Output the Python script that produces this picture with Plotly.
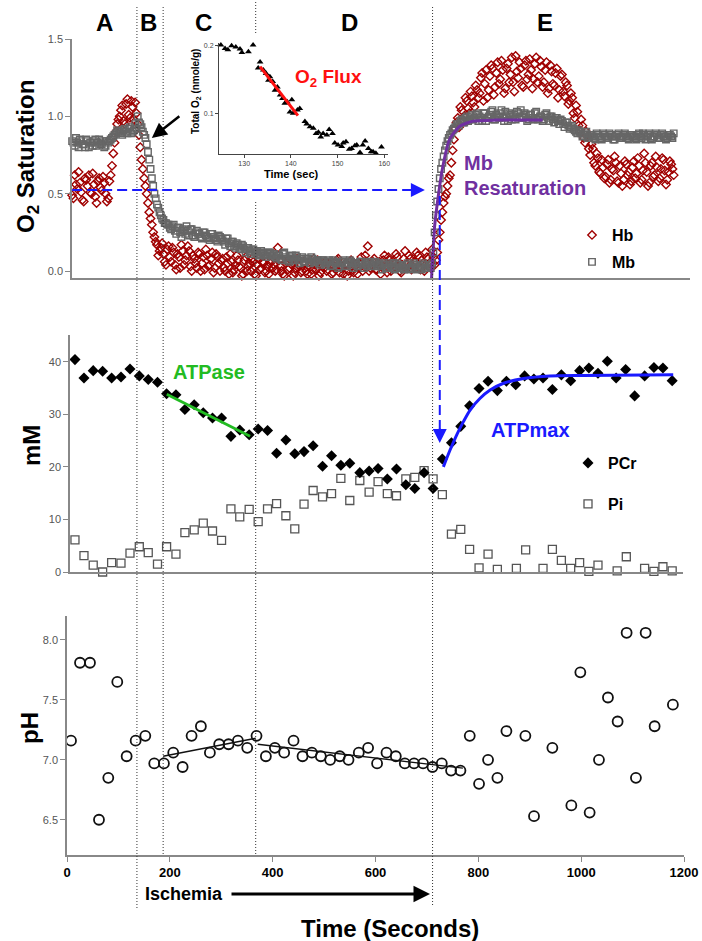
import plotly.graph_objects as go

W, H = 702, 941
FONT = "Arial, 'Liberation Sans', sans-serif"

# ---------------- DATA ----------------
# Top panel: O2 saturation, two interleaved sample sets (every 5 s, offset by 2.5 s)
sat_time = list(range(5, 1181, 5))
sat_time_b = [t - 2.5 for t in sat_time]
hb_sat = [
    0.58, 0.49, 0.62, 0.53, 0.57, 0.46, 0.60, 0.55, 0.51, 0.63, 0.48, 0.58, 0.54, 0.61, 0.50, 0.47, 0.62, 0.76, 0.90, 0.98,
    1.04, 0.97, 1.08, 1.01, 1.10, 0.98, 1.02, 0.88, 0.72, 0.60, 0.50, 0.38, 0.30, 0.22, 0.17, 0.13, 0.18, 0.06, 0.14, 0.09,
    0.15, 0.04, 0.11, 0.02, 0.13, 0.07, 0.16, 0.03, 0.10, 0.05, 0.12, 0.00, 0.09, 0.14, 0.03, 0.08, -0.01, 0.11, 0.05, 0.07,
    0.02, 0.09, -0.02, 0.06, 0.01, 0.10, 0.03, -0.03, 0.07, 0.00, 0.05, 0.08, -0.02, 0.04, 0.01, 0.06, -0.01, 0.03, 0.05, 0.02,
    0.00, 0.15, 0.03, -0.02, 0.05, 0.01, 0.07, -0.03, 0.02, 0.04, -0.01, 0.06, 0.00, 0.03, -0.02, 0.08, 0.01, -0.03, 0.04, 0.02,
    0.00, 0.05, -0.02, 0.03, 0.07, -0.01, 0.02, 0.04, -0.03, 0.06, 0.01, 0.03, -0.02, 0.05, 0.00, 0.10, 0.16, 0.02, 0.06, 0.01,
    0.04, -0.02, 0.07, 0.02, 0.09, 0.00, 0.05, 0.11, 0.03, -0.01, 0.08, 0.04, 0.10, 0.01, 0.06, 0.12, 0.03, 0.07, 0.00, 0.09,
    0.05, 0.14, 0.04, 0.12, 0.25, 0.38, 0.48, 0.55, 0.62, 0.78, 0.92, 0.99, 1.06, 0.98, 1.12, 1.05, 1.16, 1.09, 1.20, 1.12,
    1.25, 1.10, 1.30, 1.17, 1.33, 1.14, 1.28, 1.21, 1.36, 1.15, 1.31, 1.22, 1.38, 1.16, 1.29, 1.35, 1.20, 1.33, 1.24, 1.37,
    1.18, 1.34, 1.22, 1.36, 1.19, 1.30, 1.15, 1.33, 1.21, 1.28, 1.12, 1.26, 1.16, 1.22, 1.08, 1.15, 1.02, 1.07, 0.94, 0.98,
    0.86, 0.90, 0.79, 0.82, 0.70, 0.76, 0.64, 0.72, 0.60, 0.69, 0.57, 0.66, 0.74, 0.58, 0.68, 0.55, 0.71, 0.62, 0.56, 0.67,
    0.60, 0.73, 0.57, 0.65, 0.70, 0.55, 0.68, 0.61, 0.74, 0.58, 0.66, 0.72, 0.56, 0.64, 0.69, 0.62,
]
hb_sat_b = [
    0.52, 0.60, 0.47, 0.56, 0.64, 0.51, 0.45, 0.59, 0.62, 0.50, 0.56, 0.44, 0.60, 0.52, 0.57, 0.45, 0.58, 0.68, 0.83, 0.95,
    1.00, 1.07, 0.95, 1.11, 0.99, 1.06, 1.09, 0.95, 0.80, 0.66, 0.55, 0.44, 0.34, 0.25, 0.19, 0.10, 0.15, 0.11, 0.04, 0.16,
    0.06, 0.12, 0.01, 0.09, 0.17, 0.04, 0.10, 0.13, 0.00, 0.08, 0.02, 0.11, 0.05, 0.01, 0.10, 0.04, 0.12, 0.02, 0.09, 0.00,
    0.08, 0.00, 0.05, 0.11, -0.01, 0.04, 0.07, 0.02, -0.02, 0.09, 0.03, 0.00, 0.06, -0.03, 0.08, 0.02, 0.05, 0.00, -0.02, 0.07,
    0.04, 0.01, 0.07, 0.00, -0.03, 0.06, 0.02, 0.04, -0.01, 0.08, 0.03, 0.00, 0.05, -0.02, 0.06, 0.01, 0.04, 0.07, -0.01, 0.03,
    0.06, 0.01, 0.04, -0.01, 0.02, 0.08, 0.03, -0.02, 0.05, 0.00, 0.07, -0.01, 0.04, 0.02, 0.09, 0.03, 0.06, 0.00, 0.04, 0.08,
    0.01, 0.06, 0.03, 0.10, -0.01, 0.07, 0.02, 0.05, 0.09, 0.00, 0.04, 0.13, 0.02, 0.08, 0.03, 0.06, 0.10, 0.01, 0.05, 0.12,
    0.08, 0.02, 0.09, 0.07, 0.20, 0.33, 0.44, 0.50, 0.60, 0.70, 0.85, 0.96, 0.93, 1.04, 1.00, 1.10, 1.02, 1.13, 1.06, 1.17,
    1.15, 1.28, 1.21, 1.12, 1.26, 1.31, 1.19, 1.35, 1.24, 1.30, 1.18, 1.34, 1.27, 1.22, 1.39, 1.25, 1.31, 1.19, 1.36, 1.27,
    1.30, 1.24, 1.38, 1.26, 1.32, 1.22, 1.35, 1.18, 1.29, 1.20, 1.31, 1.17, 1.27, 1.13, 1.20, 1.10, 1.12, 0.99, 1.03, 0.91,
    0.94, 0.83, 0.87, 0.75, 0.79, 0.68, 0.73, 0.63, 0.67, 0.61, 0.72, 0.59, 0.65, 0.70, 0.57, 0.63, 0.59, 0.69, 0.64, 0.58,
    0.71, 0.63, 0.68, 0.59, 0.76, 0.64, 0.57, 0.70, 0.62, 0.67, 0.60, 0.73, 0.65, 0.59, 0.71, 0.66,
]
mb_sat = [
    0.82, 0.84, 0.81, 0.83, 0.85, 0.82, 0.80, 0.84, 0.83, 0.81, 0.85, 0.83, 0.82, 0.84, 0.81, 0.83, 0.85, 0.87, 0.89, 0.90,
    0.89, 0.91, 0.90, 0.92, 0.89, 0.91, 0.92, 0.96, 0.93, 0.88, 0.82, 0.72, 0.60, 0.50, 0.43, 0.38, 0.34, 0.31, 0.30, 0.28,
    0.29, 0.26, 0.28, 0.25, 0.27, 0.24, 0.26, 0.27, 0.23, 0.25, 0.24, 0.22, 0.25, 0.23, 0.21, 0.24, 0.22, 0.20, 0.23, 0.21,
    0.19, 0.21, 0.18, 0.19, 0.16, 0.18, 0.15, 0.17, 0.14, 0.15, 0.13, 0.14, 0.12, 0.13, 0.11, 0.12, 0.10, 0.11, 0.12, 0.10,
    0.09, 0.10, 0.08, 0.11, 0.09, 0.07, 0.09, 0.08, 0.10, 0.07, 0.08, 0.06, 0.08, 0.07, 0.09, 0.06, 0.07, 0.05, 0.07, 0.06,
    0.05, 0.07, 0.04, 0.06, 0.05, 0.03, 0.06, 0.04, 0.05, 0.07, 0.04, 0.05, 0.03, 0.06, 0.04, 0.05, 0.03, 0.05, 0.04, 0.06,
    0.04, 0.03, 0.05, 0.02, 0.04, 0.03, 0.05, 0.02, 0.04, 0.03, 0.01, 0.04, 0.02, 0.03, 0.05, 0.02, 0.03, 0.01, 0.04, 0.02,
    0.03, 0.05, 0.25, 0.45, 0.60, 0.70, 0.78, 0.84, 0.88, 0.91, 0.93, 0.95, 0.97, 0.96, 0.99, 0.97, 1.00, 0.98, 1.01, 0.97,
    0.99, 1.02, 0.97, 1.00, 1.03, 0.98, 1.01, 0.99, 1.04, 0.97, 1.00, 1.02, 0.98, 1.01, 1.03, 0.99, 1.00, 1.02, 0.97, 1.01,
    0.99, 1.02, 0.98, 1.00, 0.97, 1.01, 0.99, 1.00, 0.98, 0.99, 0.97, 0.98, 0.95, 0.96, 0.94, 0.93, 0.92, 0.90, 0.91, 0.89,
    0.88, 0.90, 0.87, 0.88, 0.86, 0.89, 0.87, 0.85, 0.88, 0.86, 0.89, 0.87, 0.85, 0.88, 0.86, 0.87, 0.89, 0.86, 0.88, 0.87,
    0.86, 0.88, 0.87, 0.89, 0.85, 0.88, 0.86, 0.87, 0.89, 0.86, 0.88, 0.87, 0.85, 0.88, 0.87, 0.89,
]
mb_sat_b = [
    0.84, 0.81, 0.83, 0.86, 0.80, 0.84, 0.82, 0.85, 0.80, 0.83, 0.84, 0.81, 0.85, 0.82, 0.80, 0.84, 0.84, 0.86, 0.88, 0.91,
    0.90, 0.88, 0.92, 0.89, 0.93, 0.90, 0.95, 1.00, 0.95, 0.90, 0.86, 0.77, 0.66, 0.55, 0.47, 0.41, 0.36, 0.33, 0.31, 0.30,
    0.27, 0.30, 0.24, 0.28, 0.22, 0.26, 0.29, 0.23, 0.27, 0.22, 0.26, 0.24, 0.21, 0.25, 0.22, 0.20, 0.24, 0.21, 0.19, 0.22,
    0.20, 0.17, 0.21, 0.16, 0.19, 0.15, 0.17, 0.14, 0.16, 0.12, 0.15, 0.11, 0.14, 0.12, 0.10, 0.13, 0.11, 0.09, 0.12, 0.10,
    0.11, 0.08, 0.10, 0.07, 0.12, 0.08, 0.06, 0.10, 0.07, 0.09, 0.05, 0.09, 0.06, 0.08, 0.05, 0.08, 0.06, 0.07, 0.04, 0.07,
    0.04, 0.06, 0.03, 0.07, 0.05, 0.02, 0.05, 0.07, 0.03, 0.05, 0.06, 0.02, 0.05, 0.04, 0.06, 0.02, 0.04, 0.06, 0.03, 0.05,
    0.03, 0.05, 0.01, 0.04, 0.02, 0.05, 0.03, 0.01, 0.05, 0.02, 0.04, 0.02, 0.05, 0.01, 0.03, 0.04, 0.01, 0.03, 0.05, 0.02,
    0.04, 0.02, 0.12, 0.36, 0.53, 0.66, 0.74, 0.81, 0.86, 0.89, 0.92, 0.95, 0.94, 0.98, 0.96, 1.00, 0.98, 1.01, 0.99, 1.02,
    1.00, 0.97, 1.02, 0.99, 1.01, 1.04, 0.98, 1.00, 1.02, 0.99, 1.03, 0.97, 1.01, 1.00, 0.98, 1.02, 1.04, 0.99, 1.01, 0.98,
    1.01, 0.98, 1.03, 0.99, 1.00, 0.98, 1.02, 0.97, 1.00, 0.96, 0.99, 0.95, 0.97, 0.93, 0.96, 0.92, 0.94, 0.91, 0.89, 0.90,
    0.87, 0.89, 0.86, 0.88, 0.87, 0.85, 0.88, 0.86, 0.89, 0.87, 0.86, 0.88, 0.85, 0.87, 0.89, 0.86, 0.88, 0.87, 0.85, 0.88,
    0.87, 0.85, 0.89, 0.86, 0.88, 0.87, 0.89, 0.85, 0.87, 0.88, 0.86, 0.89, 0.87, 0.86, 0.88, 0.86,
]
# Mb resaturation fit
resat_time = [709, 715, 722, 731, 744, 764, 790, 835, 925]
resat_val = [-0.047, 0.288, 0.482, 0.677, 0.851, 0.937, 0.969, 0.976, 0.977]

# Middle panel: PCr and Pi (mM)
pcr_time = [15.5, 33, 51, 69.3, 86.8, 105, 122.5, 140.6, 158, 176, 193.7, 211.9, 229.3, 247.4, 265,
            283, 300.6, 318.8, 336, 354.3, 371.8, 390, 407.6, 425.7, 443, 461, 478.7, 497, 514.5, 532.6,
            550, 569.5, 587.6, 605, 623, 640.8, 659, 676.4, 694.5, 712, 730, 747.7, 765.8, 783, 801.4,
            818.9, 837, 854.6, 872.7, 890, 908, 925.8, 944, 961.5, 979.6, 997, 1015, 1032.7, 1050.9, 1068,
            1086.5, 1104, 1123.4, 1141.5, 1159, 1177]
pcr_val = [40.4, 36.9, 38.3, 38.2, 36.9, 37.1, 38.6, 37.3, 36.6, 36.1, 33.9, 33.7, 30.9, 31.8, 30.3,
           29.3, 29.3, 25.8, 27.0, 26.1, 27.2, 26.9, 22.6, 25.1, 22.5, 22.9, 24.0, 20.1, 22.1, 20.3,
           20.7, 18.9, 19.2, 19.7, 17.7, 19.6, 16.6, 15.9, 18.9, 15.9, 21.5, 24.6, 27.7, 31.6, 34.9,
           36.3, 34.5, 36.3, 35.6, 37.3, 36.7, 36.9, 34.7, 37.5, 36.4, 38.3, 38.8, 37.8, 40.1, 36.9,
           38.5, 33.5, 37.3, 38.9, 38.8, 36.4]
pi_time = [15.5, 33, 51, 69.3, 86.8, 105, 122.5, 140.6, 158, 176, 193.7, 211.9, 229.3, 247.4, 265,
           283, 300.6, 318.8, 336, 354.3, 371.8, 390, 407.6, 425.7, 443, 461, 478.7, 497, 514.5, 532.6,
           550, 569.5, 587.6, 605, 623, 640.8, 659, 676.4, 694.5, 712, 730, 747.7, 765.8, 783, 801.4,
           818.9, 837, 874, 892, 925.8, 944, 961.5, 979.6, 997, 1015, 1032.7, 1070, 1087.8, 1123.4,
           1141.5, 1159, 1177]
pi_val = [6.1, 3.1, 1.3, 0.0, 1.8, 1.7, 3.6, 4.8, 3.7, 1.5, 4.8, 3.4, 7.5, 8.0, 9.3,
          7.8, 6.0, 12.0, 10.5, 11.9, 9.6, 12.0, 13.0, 10.7, 8.2, 12.9, 15.5, 14.3, 14.9, 17.8,
          13.6, 17.4, 15.2, 17.2, 14.9, 14.5, 17.7, 18.0, 19.3, 17.7, 14.7, 7.2, 8.1, 4.3, 0.8,
          3.4, 0.5, 0.7, 4.2, 0.7, 4.3, 2.2, 0.7, 1.8, 0.1, 1.3, 0.2, 2.9, 0.7,
          0.1, 1.0, 0.2]
atpase_time = [194, 356]
atpase_val = [33.8, 25.8]
atpmax_time = [732, 745, 758, 771, 784, 803, 823, 849, 888, 939, 1004, 1179]
atpmax_val = [20.0, 23.2, 26.1, 28.6, 30.8, 33.0, 34.6, 35.9, 36.8, 37.3, 37.4, 37.5]

# Bottom panel: pH
ph_time = [7.8, 25.3, 44.7, 62.2, 80.3, 97.8, 116, 133.5, 152.3, 169.7, 188.5, 206.6, 224.9, 242.3,
           260.4, 277.9, 296, 314.2, 332.4, 350.5, 368.6, 386.8, 404.3, 422.4, 440.6, 458.1, 476.2,
           493.7, 511.8, 530.6, 547.5, 567.5, 585.6, 603.1, 621.4, 639.5, 657, 675, 692.5, 710.8,
           728.9, 747, 765.2, 783.3, 801.4, 818.9, 837.1, 854.6, 891.5, 908.3, 944, 980.9, 998.4,
           1016.5, 1034.6, 1052.1, 1070.9, 1088.4, 1106.5, 1125.4, 1142.9, 1178.4]
ph_val = [7.16, 7.81, 7.81, 6.50, 6.85, 7.65, 7.03, 7.16, 7.20, 6.97, 6.97, 7.06, 6.94, 7.20,
          7.28, 7.06, 7.13, 7.13, 7.16, 7.10, 7.20, 7.03, 7.10, 7.06, 7.16, 7.03, 7.06,
          7.03, 7.00, 7.03, 7.00, 7.06, 7.10, 6.97, 7.06, 7.03, 6.97, 6.97, 6.97, 6.94,
          6.97, 6.91, 6.91, 7.20, 6.80, 7.00, 6.85, 7.24, 7.20, 6.53, 7.10, 6.62, 7.73,
          6.56, 7.00, 7.52, 7.32, 8.06, 6.85, 8.06, 7.28, 7.46]
ph_fit1_time = [187, 367]
ph_fit1_val = [7.03, 7.18]
ph_fit2_time = [371, 770]
ph_fit2_val = [7.13, 6.93]

# Inset: total O2 (nmole/g)
inset_time = [125.0, 125.9, 126.5, 127.3, 128.2, 129.1, 129.5, 130.9, 131.9, 133.0, 133.4, 134.1, 134.7,
              135.2, 135.5, 136.1, 136.6, 137.1, 137.7, 138.2, 138.7, 139.2, 139.8, 140.2, 140.5, 141.4,
              141.9, 143.0, 143.4, 144.1, 144.8, 145.4, 145.9, 146.4, 146.9, 147.7, 148.2, 148.9, 149.4,
              150.1, 150.9, 151.2, 151.8, 152.5, 153.0, 153.7, 154.1, 154.8, 155.4, 155.9, 156.6, 157.2,
              157.6, 158.2, 159.4]
inset_o2 = [0.201, 0.196, 0.194, 0.200, 0.198, 0.195, 0.190, 0.191, 0.201, 0.167, 0.176, 0.164, 0.159,
            0.149, 0.154, 0.147, 0.134, 0.139, 0.127, 0.122, 0.115, 0.117, 0.102, 0.120, 0.100, 0.105,
            0.107, 0.088, 0.084, 0.080, 0.078, 0.070, 0.072, 0.065, 0.070, 0.068, 0.076, 0.070, 0.056,
            0.053, 0.051, 0.056, 0.058, 0.047, 0.048, 0.052, 0.053, 0.042, 0.053, 0.059, 0.048, 0.043,
            0.043, 0.041, 0.050]
flux_time = [133.4, 141.5]
flux_val = [0.169, 0.0966]

phase_bounds = [136, 187, 367, 711]
phase_labels = ["A", "B", "C", "D", "E"]
phase_label_time = [72, 158, 265, 550, 930]
x_ticks = [0, 200, 400, 600, 800, 1000, 1200]

# ---------------- STYLE ----------------
HB_RED = "#a00000"
MB_GRAY = "#666666"
AX_GRAY = "#888888"
PURPLE = "#7030a0"
BLUE = "#1a1aff"
GREEN = "#22bb22"
RED = "#ff1010"


def py(p):
    """pixel row (from top) -> paper y"""
    return 1 - p / H


def pxx(p):
    return p / W


fig = go.Figure()

# top panel
fig.add_trace(go.Scatter(x=sat_time + sat_time_b, y=hb_sat + hb_sat_b, mode="markers", name="<b>Hb</b>",
                         legend="legend",
                         marker=dict(symbol="diamond-open", size=6.5, color=HB_RED, line=dict(width=1.4, color=HB_RED)),
                         cliponaxis=False, xaxis="x", yaxis="y"))
fig.add_trace(go.Scatter(x=sat_time + sat_time_b, y=mb_sat + mb_sat_b, mode="markers", name="<b>Mb</b>",
                         legend="legend2",
                         marker=dict(symbol="square-open", size=6.5, color=MB_GRAY, line=dict(width=1.4, color=MB_GRAY)),
                         cliponaxis=False, xaxis="x", yaxis="y"))
fig.add_trace(go.Scatter(x=resat_time, y=resat_val, mode="lines", showlegend=False,
                         line=dict(color=PURPLE, width=3, shape="spline", smoothing=0.6),
                         cliponaxis=False, xaxis="x", yaxis="y"))

# middle panel
fig.add_trace(go.Scatter(x=pi_time, y=pi_val, mode="markers", name="<b>Pi</b>", legend="legend4",
                         marker=dict(symbol="square-open", size=8, color="#555555", line=dict(width=1.3, color="#555555")),
                         cliponaxis=False, xaxis="x2", yaxis="y2"))
fig.add_trace(go.Scatter(x=pcr_time, y=pcr_val, mode="markers", name="<b>PCr</b>", legend="legend3",
                         marker=dict(symbol="diamond", size=8.5, color="black"),
                         cliponaxis=False, xaxis="x2", yaxis="y2"))
fig.add_trace(go.Scatter(x=atpase_time, y=atpase_val, mode="lines", showlegend=False,
                         line=dict(color=GREEN, width=2.8), xaxis="x2", yaxis="y2"))
fig.add_trace(go.Scatter(x=atpmax_time, y=atpmax_val, mode="lines", showlegend=False,
                         line=dict(color=BLUE, width=3, shape="spline", smoothing=0.8), xaxis="x2", yaxis="y2"))

# bottom panel
fig.add_trace(go.Scatter(x=ph_time, y=ph_val, mode="markers", showlegend=False,
                         marker=dict(symbol="circle-open", size=10, color="#111111", line=dict(width=1.8, color="#111111")),
                         cliponaxis=False, xaxis="x3", yaxis="y3"))
for tt, vv in [(ph_fit1_time, ph_fit1_val), (ph_fit2_time, ph_fit2_val)]:
    fig.add_trace(go.Scatter(x=tt, y=vv, mode="lines", showlegend=False,
                             line=dict(color="#111111", width=1.3), xaxis="x3", yaxis="y3"))

# inset
fig.add_trace(go.Scatter(x=inset_time, y=inset_o2, mode="markers", showlegend=False,
                         marker=dict(symbol="triangle-up", size=6, color="black"),
                         cliponaxis=False, xaxis="x4", yaxis="y4"))
fig.add_trace(go.Scatter(x=flux_time, y=flux_val, mode="lines", showlegend=False,
                         line=dict(color=RED, width=3), xaxis="x4", yaxis="y4"))

tick_font = dict(family=FONT, size=11, color="#555555")
common_axis = dict(showgrid=False, zeroline=False, showline=True, linecolor=AX_GRAY, linewidth=1.5,
                   automargin=False)

fig.update_layout(
    width=W, height=H, margin=dict(l=0, r=0, t=0, b=0, pad=0), autosize=False,
    paper_bgcolor="white", plot_bgcolor="rgba(0,0,0,0)",
    font=dict(family=FONT, color="black"),
    xaxis=dict(domain=[pxx(72), pxx(690)], range=[(72 - 67) / 0.51417, (690 - 67) / 0.51417],
               ticks="", showticklabels=False, anchor="y", **common_axis),
    yaxis=dict(domain=[py(278), py(39)], range=[-0.045, 1.5], tickvals=[0, 0.5, 1, 1.5],
               ticktext=["0.0", "0.5", "1.0", "1.5"], ticks="outside", ticklen=5, tickcolor=AX_GRAY,
               tickfont=tick_font, anchor="x", **common_axis),
    xaxis2=dict(domain=[pxx(70), pxx(683)], range=[(70 - 67) / 0.51417, (683 - 67) / 0.51417],
                ticks="", showticklabels=False, anchor="y2", **common_axis),
    yaxis2=dict(domain=[py(572), py(335)], range=[0, 45.08], tickvals=[0, 10, 20, 30, 40],
                ticks="outside", ticklen=5, tickcolor=AX_GRAY, tickfont=tick_font, anchor="x2", **common_axis),
    xaxis3=dict(domain=[pxx(67), pxx(684)], range=[0, 1200], tickvals=x_ticks,
                ticks="outside", ticklen=5, tickcolor=AX_GRAY,
                tickfont=dict(family=FONT, size=13, color="black", weight="bold"), anchor="y3", **common_axis),
    yaxis3=dict(domain=[py(855), py(616)], range=[6.206, 8.2], tickvals=[6.5, 7, 7.5, 8],
                ticktext=["6.5", "7.0", "7.5", "8.0"], ticks="outside", ticklen=5, tickcolor=AX_GRAY,
                tickfont=tick_font, anchor="x3", **common_axis),
    xaxis4=dict(domain=[pxx(219), pxx(388)], range=[124.6, 160.8], tickvals=[130, 140, 150, 160],
                ticks="outside", ticklen=3, tickcolor="#444", tickfont=dict(family=FONT, size=7, color="#444"),
                anchor="y4", showgrid=False, zeroline=False, showline=True, linecolor="#444", linewidth=1,
                automargin=False),
    yaxis4=dict(domain=[py(154), py(43)], range=[0.0398, 0.204], tickvals=[0.1, 0.2],
                ticks="outside", ticklen=3, tickcolor="#444", tickfont=dict(family=FONT, size=7, color="#444"),
                anchor="x4", showgrid=False, zeroline=False, showline=True, linecolor="#444", linewidth=1,
                automargin=False),
)

# legends (one item each)
leg_common = dict(bgcolor="rgba(0,0,0,0)", borderwidth=0, xanchor="left", yanchor="middle",
                  font=dict(family=FONT, size=16, color="black"), itemwidth=30)
fig.update_layout(
    legend=dict(x=pxx(572), y=py(235), **leg_common),
    legend2=dict(x=pxx(572), y=py(262), **leg_common),
    legend3=dict(x=pxx(568), y=py(463), **leg_common),
    legend4=dict(x=pxx(568), y=py(504), **leg_common),
)

shapes = []
# phase boundary dotted lines
dot = dict(color="#333333", width=1, dash="1px,2px")
line_extents = [(7, 908), (7, 854), None, (5, 905)]
for b, ext in zip(phase_bounds, line_extents):
    if ext is None:
        shapes.append(dict(type="line", xref="x3", yref="paper", x0=b, x1=b, y0=py(33), y1=py(0), line=dot, layer="above"))
        shapes.append(dict(type="line", xref="x3", yref="paper", x0=b, x1=b, y0=py(854), y1=py(200), line=dot, layer="above"))
    else:
        shapes.append(dict(type="line", xref="x3", yref="paper", x0=b, x1=b, y0=py(ext[1]), y1=py(ext[0]), line=dot, layer="above"))

# blue dashed arrows
shapes.append(dict(type="line", xref="x", yref="y", x0=10, x1=684, y0=0.524, y1=0.524,
                   line=dict(color=BLUE, width=2, dash="10px,5px"), layer="above"))
shapes.append(dict(type="line", xref="x3", yref="paper", x0=725, x1=725, y0=py(430), y1=py(196),
                   line=dict(color=BLUE, width=2, dash="10px,5px"), layer="above"))
fig.update_layout(shapes=shapes)


def label(text, xp, yp, size, color="black", xanchor="center", angle=0):
    return dict(x=pxx(xp), y=py(yp), xref="paper", yref="paper", text=text, showarrow=False,
                xanchor=xanchor, yanchor="middle", textangle=angle,
                font=dict(family=FONT, size=size, color=color, weight="bold"))


ann = []
# panel letters
for lab, t in zip(phase_labels, phase_label_time):
    ann.append(dict(x=t, xref="x3", y=py(23), yref="paper", text=lab, showarrow=False,
                    xanchor="center", yanchor="middle",
                    font=dict(family=FONT, size=24, color="black", weight="bold")))
# arrowheads
ann.append(dict(x=696, y=0.524, xref="x", yref="y", ax=-14, ay=0, text="", showarrow=True,
                arrowhead=2, arrowsize=1.4, arrowwidth=2, arrowcolor=BLUE))
ann.append(dict(x=725, y=py(443), xref="x3", yref="paper", ax=0, ay=-16, text="", showarrow=True,
                arrowhead=2, arrowsize=1.4, arrowwidth=2, arrowcolor=BLUE))
# black arrow pointing to Mb drop
ann.append(dict(x=165, y=0.86, xref="x", yref="y", ax=29, ay=-23, text="", showarrow=True,
                arrowhead=2, arrowsize=1.2, arrowwidth=2.5, arrowcolor="black"))
# Ischemia arrow
ann.append(dict(x=706, y=py(894), xref="x3", yref="paper", ax=-200, ay=0, text="", showarrow=True,
                arrowhead=2, arrowsize=1.1, arrowwidth=3, arrowcolor="black"))
ann.append(label("Ischemia", 143, 894, 18, xanchor="left"))
ann.append(label("Time (Seconds)", 390, 928, 24))
# y titles
ann.append(label("O<sub>2</sub> Saturation", 27, 157, 24, angle=-90))
ann.append(label("mM", 31, 446, 24, angle=-90))
ann.append(label("pH", 29, 728, 24, angle=-90))
# colored labels
ann.append(label("O<sub>2</sub> Flux", 293, 78, 19, color=RED, xanchor="left"))
ann.append(label("Mb", 462, 163, 20, color=PURPLE, xanchor="left"))
ann.append(label("Resaturation", 462, 188, 20, color=PURPLE, xanchor="left"))
ann.append(label("ATPase", 171, 372, 20, color=GREEN, xanchor="left"))
ann.append(label("ATPmax", 489, 430, 20, color=BLUE, xanchor="left"))
# inset titles
ann.append(label("Total O<sub>2</sub> (nmole/g)", 196, 92, 10, angle=-90))
ann.append(label("Time (sec)", 291, 174, 11))
fig.update_layout(annotations=ann)

fig.write_html("out.html", config={"displayModeBar": False},
               post_script="document.body.style.margin='0';document.body.style.padding='0';"
                           "document.documentElement.style.overflow='hidden';")
